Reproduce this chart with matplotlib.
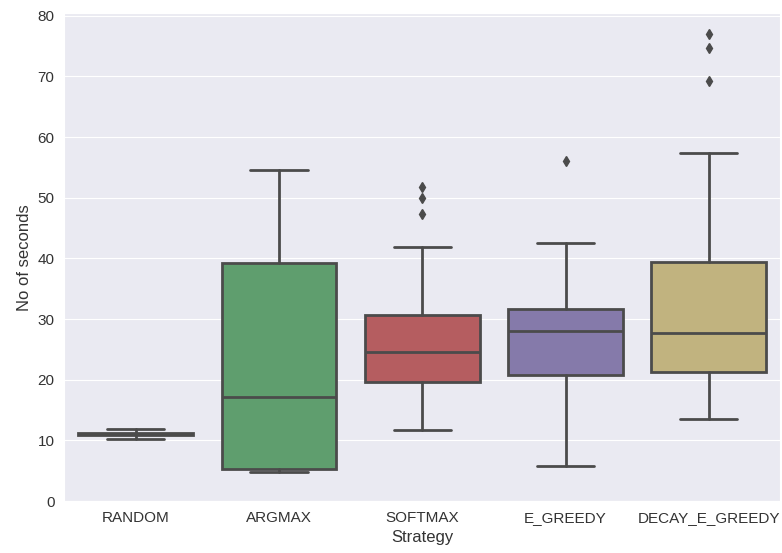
import matplotlib
matplotlib.use("Agg")
import matplotlib.pyplot as plt
import seaborn as sns
from matplotlib.colors import to_rgb
import colorsys

# values
strategies = ["RANDOM", "ARGMAX", "SOFTMAX", "E_GREEDY", "DECAY_E_GREEDY"]
whisker_low = [10.2, 4.8, 11.7, 5.8, 13.5]
q1 = [10.9, 5.3, 19.6, 20.7, 21.3]
median = [11.0, 17.2, 24.6, 28.0, 27.7]
q3 = [11.2, 39.2, 30.6, 31.7, 39.4]
whisker_high = [11.8, 54.5, 41.8, 42.6, 57.4]
outliers = [[], [], [47.3, 49.9, 51.8], [56.1], [69.2, 74.7, 77.0]]

colors = ["#4C72B0", "#55A868", "#C44E52", "#8172B2", "#CCB974"]

sns.set_style("darkgrid")
plt.rcParams["font.family"] = ["Liberation Sans", "DejaVu Sans"]


def desat(c, prop=0.75):
    h, l, s = colorsys.rgb_to_hls(*to_rgb(c))
    return colorsys.hls_to_rgb(h, l, s * prop)


stats = []
for i, name in enumerate(strategies):
    stats.append({
        "label": name,
        "whislo": whisker_low[i],
        "q1": q1[i],
        "med": median[i],
        "q3": q3[i],
        "whishi": whisker_high[i],
        "fliers": outliers[i],
    })

fig = plt.figure(figsize=(7.82, 5.53), dpi=100)
ax = fig.add_axes([0.082, 0.094, 0.916, 0.882])

line_col = "#4b4b4b"
bp = ax.bxp(stats, positions=range(len(strategies)), widths=0.8, patch_artist=True,
            boxprops=dict(edgecolor=line_col, linewidth=2),
            medianprops=dict(color=line_col, linewidth=2),
            whiskerprops=dict(color=line_col, linewidth=2),
            capprops=dict(color=line_col, linewidth=2),
            flierprops=dict(marker="d", markerfacecolor=line_col, markeredgecolor=line_col,
                            markersize=5, linestyle="none"))
for patch, c in zip(bp["boxes"], colors):
    patch.set_facecolor(desat(c))

ax.grid(axis="x", visible=False)
ax.set_xlim(-0.5, len(strategies) - 0.5)
ax.set_ylim(0, 80.4)
ax.set_yticks(range(0, 81, 10))
ax.set_xticks(range(len(strategies)))
ax.set_xticklabels(strategies)
ax.tick_params(labelsize=11, colors="#333333")
ax.set_xlabel("Strategy", fontsize=12, color="#333333")
ax.set_ylabel("No of seconds", fontsize=12, color="#333333")

fig.savefig("out.png", dpi=100)
